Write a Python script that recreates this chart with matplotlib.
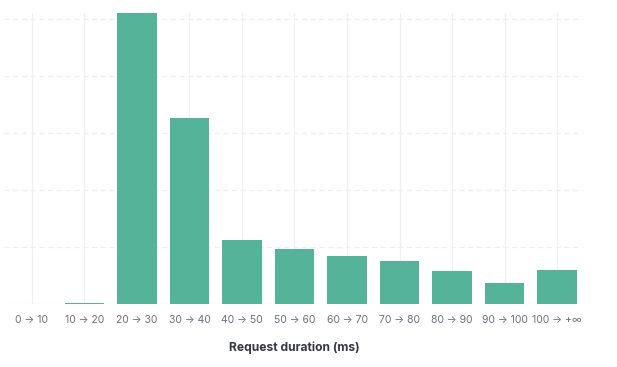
import matplotlib
matplotlib.use("Agg")
import matplotlib.pyplot as plt

# request duration buckets and request counts
buckets = ["0 → 10", "10 → 20", "20 → 30", "30 → 40", "40 → 50", "50 → 60",
           "60 → 70", "70 → 80", "80 → 90", "90 → 100", "100 → +∞"]
counts = [0, 2, 510, 326, 112, 96, 84, 75, 58, 37, 60]
y_grid = [0, 100, 200, 300, 400, 500]

plt.rcParams['font.family'] = ['Inter', 'DejaVu Sans']

fig = plt.figure(figsize=(6.17, 3.67), dpi=100)
ax = fig.add_axes([4 / 617, 63 / 367, 579 / 617, 291 / 367])

x = list(range(len(buckets)))

# light grid first
for yv in y_grid[1:]:
    ax.axhline(yv, color='#eceef2', lw=0.9, ls=(0, (4, 3)), zorder=0)
ax.axhline(0, color='#eceef2', lw=0.9, zorder=0)
for xv in x:
    ax.axvline(xv, color='#eef0f3', lw=0.9, zorder=0)

ax.bar(x, counts, width=0.76, color='#54b399', zorder=2)

ax.set_xlim(-0.533, 10.495)
ax.set_ylim(0, 510)
ax.set_xticks(x)
ax.set_xticklabels(buckets, fontsize=7.5, color='#69707d')
ax.tick_params(axis='x', length=0, pad=8)
ax.set_yticks([])
for s in ax.spines.values():
    s.set_visible(False)

fig.text(294 / 617, 1 - 348 / 367, "Request duration (ms)", ha='center', va='center',
         fontsize=8.7, fontweight='bold', color='#343741')

fig.savefig("out.png", dpi=100)
